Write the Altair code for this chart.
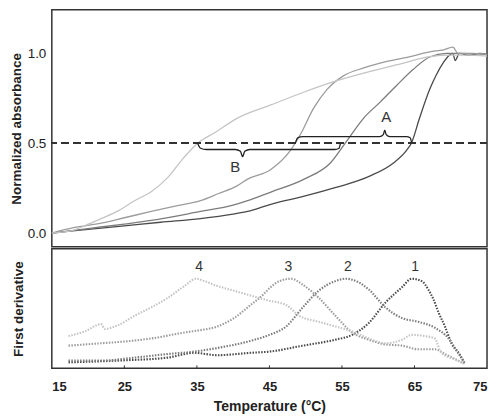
import altair as alt
import pandas as pd

# ---------------- data ----------------
# Top panel: normalized absorbance melting curves
t_1 = [15, 20, 25, 30, 35.5, 40, 42, 45.2, 49.8, 54.3, 58.9, 62.1, 63.9, 64.6, 65.7, 67.1, 68.0, 69.0, 69.8, 70.3, 70.6, 71.2, 72.5, 74, 75]
a_1 = [0, 0.02, 0.04, 0.06, 0.08, 0.105, 0.12, 0.16, 0.205, 0.255, 0.318, 0.39, 0.46, 0.503, 0.64, 0.80, 0.88, 0.95, 0.99, 1.0, 0.96, 1.0, 0.99, 1.0, 0.995]

t_2 = [15, 20, 25, 28.7, 35.5, 40, 42, 45.2, 49.8, 53.4, 55.7, 58.0, 60.3, 62.5, 64.8, 67.1, 69.4, 71, 75]
a_2 = [0, 0.025, 0.05, 0.07, 0.12, 0.155, 0.18, 0.228, 0.30, 0.39, 0.515, 0.64, 0.73, 0.82, 0.91, 0.98, 1.0, 1.0, 0.995]

t_3 = [15, 18, 21.8, 25, 28.7, 32, 35.5, 38, 40.6, 42, 45.2, 47.9, 49.3, 51.1, 52.95, 55.2, 58.0, 61.2, 64.4, 67.1, 69, 70.3, 71, 73, 75]
a_3 = [0, 0.03, 0.055, 0.085, 0.12, 0.15, 0.18, 0.22, 0.264, 0.30, 0.354, 0.46, 0.551, 0.695, 0.80, 0.875, 0.919, 0.955, 0.982, 1.009, 1.02, 1.035, 1.0, 1.0, 0.995]

t_4 = [15, 17.5, 19.5, 21.8, 24.2, 26.4, 28.7, 31, 33.2, 35.1, 37.5, 40.6, 45.2, 49.8, 54.3, 58.9, 63.5, 67.1, 70, 72, 75]
a_4 = [0, 0.01, 0.04, 0.08, 0.125, 0.18, 0.23, 0.31, 0.42, 0.50, 0.56, 0.64, 0.713, 0.785, 0.848, 0.90, 0.946, 0.982, 0.99, 0.99, 0.985]

# Bottom panel: first derivative (arbitrary units, 0..1 of panel height)
dt_1 = [17.3, 24.1, 31.0, 34.6, 37.8, 42.4, 45.0, 49.6, 54.1, 56.4, 58.7, 61.0, 63.3, 64.6, 66.0, 66.9, 67.6, 68.3, 69.2, 70.1, 71.3, 71.9]
d_1 = [0.05, 0.065, 0.09, 0.13, 0.11, 0.13, 0.14, 0.19, 0.24, 0.28, 0.38, 0.55, 0.68, 0.75, 0.73, 0.66, 0.58, 0.47, 0.35, 0.21, 0.11, 0.04]

dt_2 = [17.3, 21.8, 26.4, 31.0, 34.6, 37.8, 42.4, 45.0, 47.3, 49.6, 51.8, 54.1, 55.5, 57.3, 58.7, 61.0, 63.3, 65.5, 67.8, 69.7, 71.0, 71.9]
d_2 = [0.065, 0.065, 0.09, 0.12, 0.14, 0.17, 0.23, 0.28, 0.35, 0.51, 0.65, 0.73, 0.75, 0.72, 0.66, 0.51, 0.42, 0.39, 0.34, 0.25, 0.13, 0.05]

dt_3 = [17.3, 19.6, 21.8, 24.1, 28.7, 33.3, 35.5, 37.8, 40.1, 42.4, 44.2, 45.0, 46.4, 48.0, 49.6, 51.8, 54.1, 56.4, 58.7, 61.0, 63.3, 65.5, 67.8, 69.2, 71.0, 71.9]
d_3 = [0.19, 0.20, 0.21, 0.22, 0.25, 0.30, 0.32, 0.35, 0.42, 0.53, 0.62, 0.67, 0.73, 0.75, 0.70, 0.59, 0.44, 0.30, 0.24, 0.20, 0.19, 0.16, 0.16, 0.12, 0.065, 0.04]

dt_4 = [17.3, 19.6, 21.8, 22.3, 24.1, 26.4, 28.7, 31.0, 33.3, 34.9, 36.0, 37.8, 40.1, 42.4, 44.7, 47.3, 49.1, 51.8, 54.1, 56.4, 58.7, 61.0, 63.3, 64.6, 66.5, 67.8, 68.7, 71.0, 71.7]
d_4 = [0.27, 0.31, 0.37, 0.33, 0.36, 0.44, 0.51, 0.59, 0.69, 0.75, 0.73, 0.69, 0.65, 0.61, 0.57, 0.53, 0.44, 0.39, 0.35, 0.31, 0.25, 0.21, 0.24, 0.28, 0.27, 0.25, 0.13, 0.065, 0.04]

# Braces (annotation paths) in data units
brace_b_t = [35.1, 35.5, 36.3, 40.3, 41.0, 41.3, 41.6, 42.3, 54.0, 54.6, 54.8]
brace_b_v = [0.50, 0.472, 0.465, 0.465, 0.455, 0.425, 0.455, 0.465, 0.465, 0.472, 0.50]
brace_a_t = [48.6, 48.9, 49.6, 60.2, 60.7, 60.9, 61.1, 61.6, 63.9, 64.4, 64.6]
brace_a_v = [0.503, 0.53, 0.537, 0.537, 0.548, 0.573, 0.548, 0.537, 0.537, 0.53, 0.503]

letter_text = ["A", "B"]
letter_t = [61.1, 40.3]
letter_v = [0.644, 0.37]

num_text = ["4", "3", "2", "1"]
num_t = [35.3, 47.6, 55.8, 65.1]
num_v = [0.85, 0.85, 0.85, 0.85]

x_ticks = [15, 25, 35, 45, 55, 65, 75]
inner_ticks = [25, 35, 45, 55, 65]

series = ["1", "2", "3", "4"]
top_colors = ["#4a4a4a", "#7c7c7c", "#9c9c9c", "#c4c4c4"]
bot_colors = ["#505050", "#808080", "#9c9c9c", "#c2c2c2"]

# ---------------- frames ----------------
top_df = pd.concat([
    pd.DataFrame({"T": t, "v": a, "s": s})
    for t, a, s in zip([t_1, t_2, t_3, t_4], [a_1, a_2, a_3, a_4], series)
])
bot_df = pd.concat([
    pd.DataFrame({"T": t, "v": d, "s": s})
    for t, d, s in zip([dt_1, dt_2, dt_3, dt_4], [d_1, d_2, d_3, d_4], series)
])
brace_df = pd.concat([
    pd.DataFrame({"T": brace_a_t, "v": brace_a_v, "b": "A", "o": list(range(len(brace_a_t)))}),
    pd.DataFrame({"T": brace_b_t, "v": brace_b_v, "b": "B", "o": list(range(len(brace_b_t)))}),
])
letters_df = pd.DataFrame({"T": letter_t, "v": letter_v, "label": letter_text})
nums_df = pd.DataFrame({"T": num_t, "v": num_v, "label": num_text})
ticks_df = pd.DataFrame({"T": inner_ticks})

W = 437
H1 = 238
H2 = 120
FONT = "Liberation Sans"

x_scale = alt.Scale(domain=[15, 75], nice=False, zero=False)
y_top_scale = alt.Scale(domain=[-0.077, 1.2425], nice=False, zero=False)
y_bot_scale = alt.Scale(domain=[0, 1], nice=False, zero=False)

# ---------------- top panel ----------------
top_lines = alt.Chart(top_df).mark_line(strokeWidth=1.3, interpolate="monotone").encode(
    x=alt.X("T:Q", scale=x_scale, axis=None),
    y=alt.Y("v:Q", scale=y_top_scale,
            axis=alt.Axis(values=[0, 0.5, 1.0], format=".1f", title="Normalized absorbance",
                          ticks=False, domain=False, grid=False, labelFontSize=13.5,
                          labelPadding=6, titleFontSize=13.5, titleFontWeight="bold",
                          titlePadding=4)),
    color=alt.Color("s:N", scale=alt.Scale(domain=series, range=top_colors), legend=None),
)

half_rule = alt.Chart(top_df).mark_rule(strokeDash=[7, 5], color="#333333", strokeWidth=1.2).encode(
    y=alt.datum(0.5)
)

braces = alt.Chart(brace_df).mark_line(color="#222222", strokeWidth=1.3, interpolate="monotone").encode(
    x="T:Q", y="v:Q", detail="b:N", order="o:Q"
)

letters = alt.Chart(letters_df).mark_text(fontSize=15, font=FONT, color="#333333").encode(
    x="T:Q", y="v:Q", text="label:N"
)

top = alt.layer(top_lines, half_rule, braces, letters).properties(width=W, height=H1)

# ---------------- bottom panel ----------------
bot_lines = alt.Chart(bot_df).mark_line(strokeWidth=2.1, strokeDash=[1.5, 1.4], strokeCap="butt",
                                        interpolate="monotone").encode(
    x=alt.X("T:Q", scale=x_scale,
            axis=alt.Axis(values=x_ticks, format="d", title="Temperature (°C)",
                          ticks=False, domain=False, grid=False, labelFontSize=13,
                          labelFontWeight="bold", labelPadding=12, titleFontSize=14,
                          titleFontWeight="bold", titlePadding=6)),
    y=alt.Y("v:Q", scale=y_bot_scale,
            axis=alt.Axis(title="First derivative", labels=False, ticks=False, domain=False,
                          grid=False, titleFontSize=13.5, titleFontWeight="bold",
                          titlePadding=26)),
    color=alt.Color("s:N", scale=alt.Scale(domain=series, range=bot_colors), legend=None),
)

nums = alt.Chart(nums_df).mark_text(fontSize=14, font=FONT, color="#333333").encode(
    x="T:Q", y="v:Q", text="label:N"
)

inner = alt.Chart(ticks_df).mark_rule(color="#333333", strokeWidth=1).encode(
    x="T:Q", y=alt.value(H2), y2=alt.value(H2 - 3)
)

bottom = alt.layer(bot_lines, nums, inner).properties(width=W, height=H2)

chart = alt.vconcat(top, bottom, spacing=0).properties(padding=0).configure_view(
    stroke="#333333", strokeWidth=1.5
).configure_axis(
    labelFont=FONT, titleFont=FONT, labelColor="#222222", titleColor="#222222"
).configure_text(font=FONT)

chart.save("out.html", embed_options={"renderer": "svg", "actions": False})
